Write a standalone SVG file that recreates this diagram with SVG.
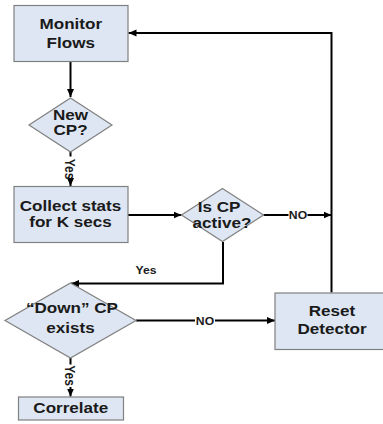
<svg xmlns="http://www.w3.org/2000/svg" width="383" height="424" viewBox="0 0 383 424">
<defs>
<style>
.node{fill:#dde6f2;stroke:#808080;stroke-width:1.2}
.t{font-family:"Liberation Sans",Arial,sans-serif;font-weight:bold;font-size:14px;fill:#1a1a1a;text-anchor:middle}
.s{font-family:"Liberation Sans",Arial,sans-serif;font-weight:bold;font-size:10px;fill:#1a1a1a;text-anchor:middle}
.c{fill:none;stroke:#000;stroke-width:2}
</style>
<marker id="ah" markerUnits="userSpaceOnUse" markerWidth="9" markerHeight="8" refX="8" refY="4" orient="auto">
<path d="M0,0.5 L8,4 L0,7.5 z" fill="#000"/>
</marker>
</defs>
<rect width="383" height="424" fill="#fff"/>
<g id="connectors">
<path class="c" d="M70.5,62 V97" marker-end="url(#ah)"/>
<path class="c" d="M70.5,152 V156.5"/>
<path class="c" d="M70.5,181.5 V186" marker-end="url(#ah)"/>
<path class="c" d="M128,215 H181.5" marker-end="url(#ah)"/>
<path class="c" d="M263.5,215 H288.5"/>
<path class="c" d="M307.5,215 H331.5" marker-end="url(#ah)"/>
<path class="c" d="M331.5,292.5 V33 H128.5" marker-end="url(#ah)"/>
<path class="c" d="M223,242 V283.5 H71" marker-end="url(#ah)"/>
<path class="c" d="M136,320.5 H195"/>
<path class="c" d="M215,320.5 H275" marker-end="url(#ah)"/>
<path class="c" d="M70.5,358 V364.5"/>
<path class="c" d="M70.5,387 V396.5" marker-end="url(#ah)"/>
<text class="s" transform="translate(298,218.5) scale(1.22,1)">NO</text>
<text class="s" transform="translate(205,324.5) scale(1.22,1)">NO</text>
<text class="s" transform="translate(146,274) scale(1.22,1)">Yes</text>
<text class="s" style="font-size:12px" transform="translate(70.5,169) scale(1.22,1) rotate(90)" dy="4.3">Yes</text>
<text class="s" style="font-size:12px" transform="translate(70.5,375.5) scale(1.22,1) rotate(90)" dy="4.3">Yes</text>
</g>
<g id="monitor-flows">
<rect class="node" x="14" y="5.5" width="114" height="56"/>
<text class="t" transform="translate(70.8,28.5) scale(1.22,1)">Monitor</text>
<text class="t" transform="translate(70.8,47.5) scale(1.22,1)">Flows</text>
</g>
<g id="new-cp">
<polygon class="node" points="70.5,98 112,125 70.5,152 29,125"/>
<text class="t" transform="translate(70.5,120) scale(1.22,1)">New</text>
<text class="t" transform="translate(70.5,134.5) scale(1.22,1)">CP?</text>
</g>
<g id="collect-stats">
<rect class="node" x="14" y="186.5" width="114" height="56"/>
<text class="t" transform="translate(70.5,211) scale(1.22,1)">Collect stats</text>
<text class="t" transform="translate(70.5,227) scale(1.22,1)">for K secs</text>
</g>
<g id="is-cp-active">
<polygon class="node" points="222.5,188.5 263.5,215 222.5,241.5 181.5,215"/>
<text class="t" transform="translate(219,211.5) scale(1.22,1)">Is CP</text>
<text class="t" transform="translate(222,228) scale(1.22,1)">active?</text>
</g>
<g id="down-cp-exists">
<polygon class="node" points="70.5,283 136,320.5 70.5,358 5,320.5"/>
<text class="t" transform="translate(72,312.5) scale(1.22,1)">“Down” CP</text>
<text class="t" transform="translate(70.5,333) scale(1.22,1)">exists</text>
</g>
<g id="reset-detector">
<rect class="node" x="275" y="293" width="110" height="56.5"/>
<text class="t" transform="translate(332,316) scale(1.22,1)">Reset</text>
<text class="t" transform="translate(332,334) scale(1.22,1)">Detector</text>
</g>
<g id="correlate">
<rect class="node" x="18.5" y="397" width="105" height="23"/>
<text class="t" transform="translate(70.8,413) scale(1.22,1)">Correlate</text>
</g>
</svg>
